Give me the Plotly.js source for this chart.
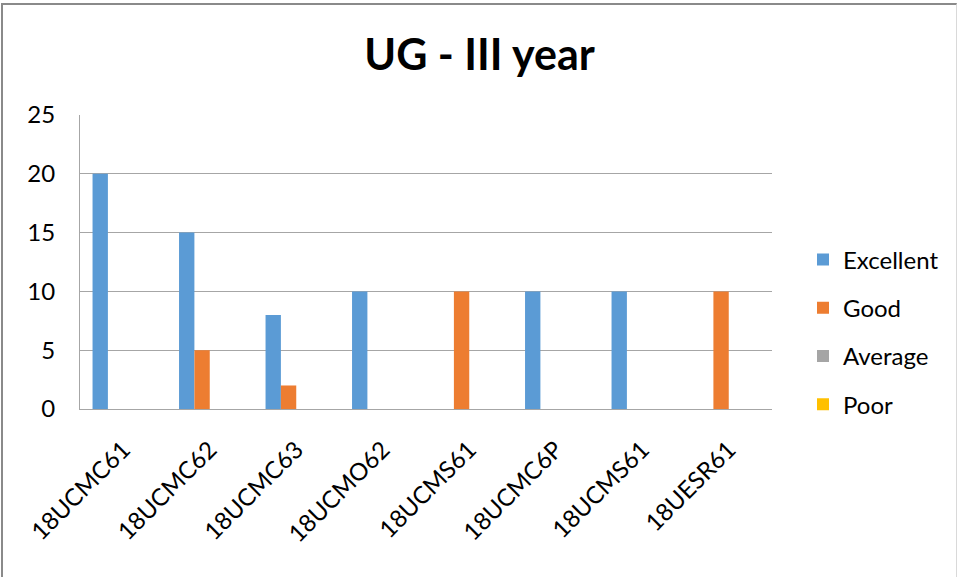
<!DOCTYPE html>
<html>
<head>
<meta charset="utf-8">
<script src="https://cdn.plot.ly/plotly-3.0.1.min.js"></script>
<style>
  html, body { margin: 0; padding: 0; background: #fff; }
  #frame { position: absolute; left: 1px; top: 3px; width: 956px; height: 580px;
           border-top: 2px solid #8a8a8a; border-left: 2px solid #8a8a8a; border-right: 1px solid #d9d9d9;
           box-sizing: border-box; pointer-events: none; z-index: 10; }
  #chart { position: absolute; left: 0; top: 0; width: 959px; height: 577px; }
</style>
</head>
<body>
<div id="chart"></div>
<div id="frame"></div>
<script>
const categories = ["18UCMC61", "18UCMC62", "18UCMC63", "18UCMO62", "18UCMS61", "18UCMC6P", "18UCMS61", "18UESR61"];
const seriesNames = ["Excellent", "Good", "Average", "Poor"];
const excellent = [20, 15, 8, 10, 0, 10, 10, 0];
const good = [0, 5, 2, 0, 10, 0, 0, 10];
const average = [0, 0, 0, 0, 0, 0, 0, 0];
const poor = [0, 0, 0, 0, 0, 0, 0, 0];
const yTicks = [0, 5, 10, 15, 20, 25];

const colors = ["#5B9BD5", "#ED7D31", "#A5A5A5", "#FFC000"];
const values = [excellent, good, average, poor];
const idx = categories.map((c, i) => i);

const traces = values.map((v, k) => ({
  type: "bar",
  name: seriesNames[k],
  x: idx,
  y: v,
  marker: { color: colors[k] },
  legendgroup: "g" + k,
  hoverinfo: "x+y+name"
}));

const font = "Lato, 'Open Sans', sans-serif";
const layout = {
  width: 959, height: 577,
  margin: { l: 80, r: 187, t: 115, b: 168 },
  paper_bgcolor: "#ffffff",
  plot_bgcolor: "#ffffff",
  barmode: "group",
  bargap: 0.29,
  bargroupgap: 0,
  showlegend: true,
  title: {
    text: "<b>UG - III year</b>",
    font: { family: font, size: 43, color: "#000" },
    x: 0.5, xref: "container", xanchor: "center",
    y: 1 - 70 / 577, yref: "container", yanchor: "bottom"
  },
  xaxis: {
    tickvals: idx,
    ticktext: categories,
    range: [-0.5, categories.length - 0.5],
    tickangle: -45,
    ticks: "",
    showgrid: false,
    showline: true,
    linecolor: "#a6a6a6",
    linewidth: 1,
    zeroline: false,
    ticklabelstandoff: 16,
    tickfont: { family: font, size: 24, color: "#000" }
  },
  yaxis: {
    range: [0, 25],
    tickvals: yTicks,
    ticks: "",
    showgrid: true,
    gridcolor: "#a6a6a6",
    gridwidth: 1,
    showline: true,
    linecolor: "#a6a6a6",
    linewidth: 1,
    zeroline: false,
    ticklabelstandoff: 19,
    tickfont: { family: font, size: 24, color: "#000" }
  },
  legend: {
    x: 1 + 31 / 692, xanchor: "left",
    y: 0.5 - 70 / 294, yanchor: "middle",
    font: { family: font, size: 24, color: "#000" },
    tracegroupgap: 14,
    traceorder: "grouped",
    itemwidth: 30
  }
};

Plotly.newPlot("chart", traces, layout, { displayModeBar: false, staticPlot: true });
</script>
</body>
</html>
